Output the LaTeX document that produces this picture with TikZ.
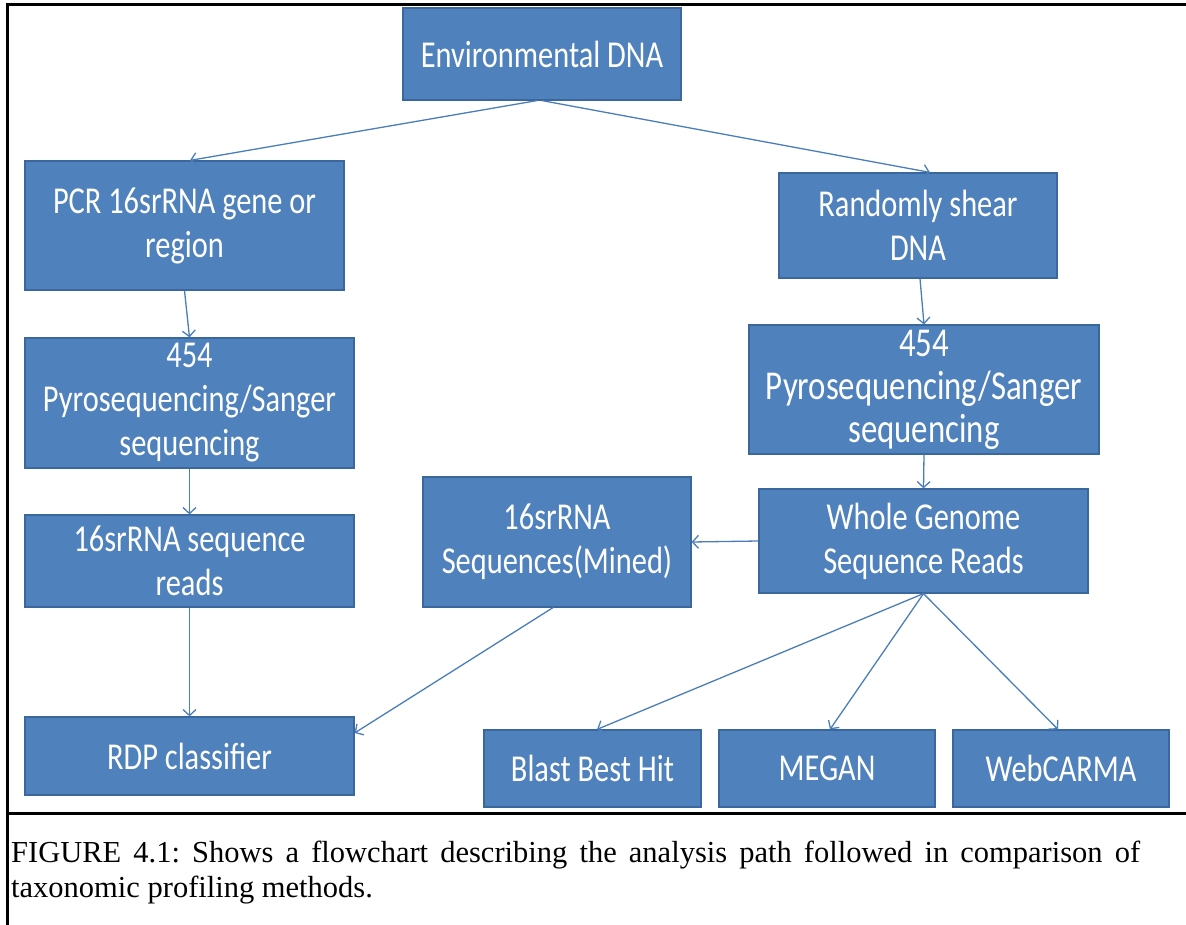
\documentclass[tikz,border=0pt]{standalone}
\usepackage{fontspec}
\newfontfamily\bxfont[FakeStretch=0.8]{Carlito}
\newfontfamily\capfont{Liberation Serif}
\usetikzlibrary{arrows.meta}
\definecolor{boxfill}{HTML}{4F81BD}
\definecolor{boxline}{HTML}{3A679C}
\definecolor{arrcol}{HTML}{4A7EBB}
\frenchspacing
\begin{document}
\begin{tikzpicture}[x=1pt,y=-1pt,
  box/.style={rectangle, fill=boxfill, draw=boxline, line width=1.2pt, text=white,
    font=\bxfont\fontsize{38}{44}\selectfont, align=center, inner sep=0pt},
  bigbox/.style={box, font=\bxfont\fontsize{41}{43}\selectfont},
  arr/.style={draw=arrcol, line width=1.3pt, -{Straight Barb[length=6pt,width=13pt]}},
  frame/.style={draw=black, line width=3pt},
  captext/.style={anchor=base west, inner sep=0pt, font=\capfont\fontsize{30.5}{36}\selectfont}]
\useasboundingbox (0,0) rectangle (1186,925);
% frame
\draw[frame] (7,925) -- (7,5) -- (1186,5);
\draw[frame] (6,813) -- (1186,813);
% boxes
\node[box, minimum width=278pt, minimum height=92pt] (env) at (542,54) {Environmental DNA};
\node[box, minimum width=319pt, minimum height=129pt] (pcr) at (184.5,225.5) {PCR 16srRNA gene or\\region};
\node[box, minimum width=278pt, minimum height=105pt] (rs) at (918,225.5) {Randomly shear\\DNA};
\node[box, minimum width=329pt, minimum height=130pt] (p454l) at (189.5,403) {454\\Pyrosequencing/Sanger\\sequencing};
\node[bigbox, minimum width=350pt, minimum height=129pt] (p454r) at (924,389.5) {454\\Pyrosequencing/Sanger\\sequencing};
\node[box, minimum width=329pt, minimum height=92pt] (reads) at (189.5,561) {16srRNA sequence\\reads};
\node[box, minimum width=268pt, minimum height=130pt] (mined) at (557,542) {16srRNA\\Sequences(Mined)};
\node[box, minimum width=329pt, minimum height=104pt] (wg) at (923.5,541) {Whole Genome\\Sequence Reads};
\node[box, minimum width=329pt, minimum height=78pt] (rdp) at (189.5,756) {RDP classifier};
\node[box, minimum width=217pt, minimum height=77pt] (blast) at (592.5,768.5) {Blast Best Hit};
\node[box, minimum width=216pt, minimum height=77pt] (megan) at (827,768.5) {MEGAN};
\node[box, minimum width=216pt, minimum height=77pt] (web) at (1061,768.5) {WebCARMA};
% connectors
\draw[arr] ([xshift=-5pt]env.south) -- ([xshift=5.5pt]pcr.north);
\draw[arr] (env.south) -- ([xshift=12pt]rs.north);
\draw[arr] (pcr.south) -- (p454l.north);
\draw[arr] (p454l.south) -- (reads.north);
\draw[arr] (reads.south) -- (rdp.north);
\draw[arr] ([xshift=2pt]rs.south) -- (p454r.north);
\draw[arr] (p454r.south) -- (wg.north);
\draw[arr] (wg.west) -- (mined.east);
\draw[arr] ([xshift=-4pt]mined.south) -- ([yshift=23pt]rdp.east);
\draw[arr] (wg.south) -- ([xshift=4.5pt]blast.north);
\draw[arr] (wg.south) -- ([xshift=3pt]megan.north);
\draw[arr] (wg.south) -- ([xshift=-3pt]web.north);
% caption
\node[captext] (cap1) at (11,862) {\hbox to 1129pt{FIGURE 4.1: Shows a flowchart describing the analysis path followed in comparison of}};
\node[captext] (cap2) at (11,897) {taxonomic profiling methods.};
\end{tikzpicture}
\end{document}
